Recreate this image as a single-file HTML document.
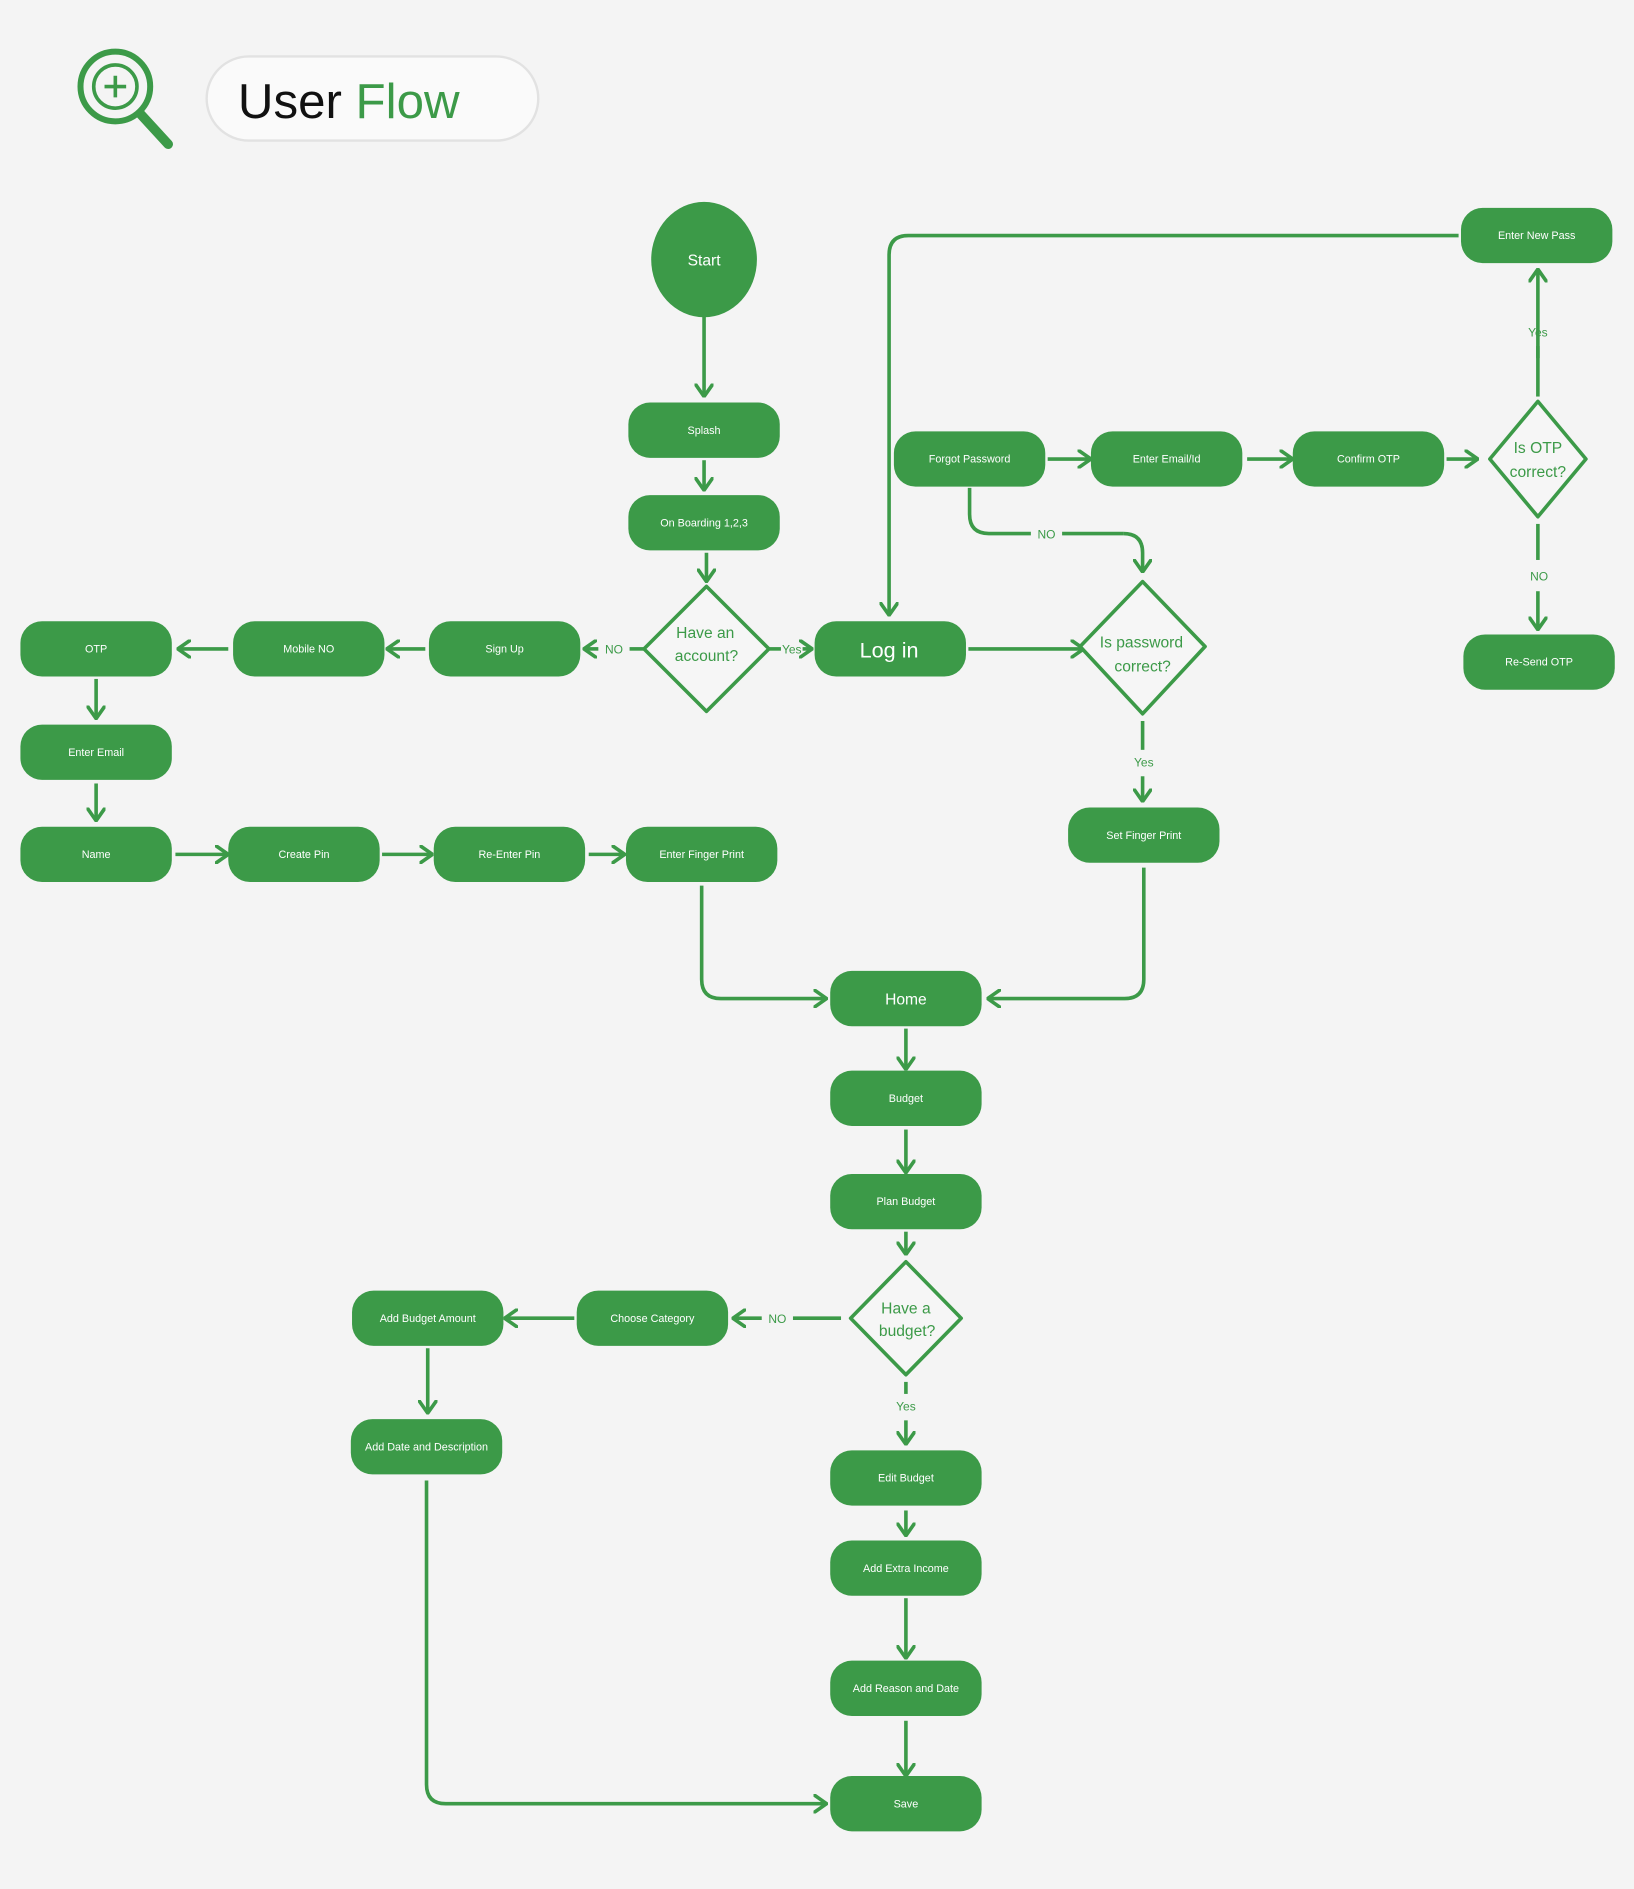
<!DOCTYPE html>
<html><head><meta charset="utf-8">
<style>
html,body{margin:0;padding:0;background:#f4f4f4;}
svg{display:block;}
text{font-family:"Liberation Sans",sans-serif;}
</style></head>
<body>
<svg width="1634" height="1889" viewBox="0 0 1360 1572" preserveAspectRatio="none" xmlns="http://www.w3.org/2000/svg">
<defs>
<marker id="a" viewBox="0 0 12 16" refX="11" refY="8" markerWidth="12" markerHeight="16" markerUnits="userSpaceOnUse" orient="auto">
<path d="M1,1 L11,8 L1,15" fill="none" stroke="#3c9a48" stroke-width="3" stroke-linecap="round" stroke-linejoin="round"/>
</marker>
</defs>
<rect width="1360" height="1572" fill="#f4f4f4"/>

<circle cx="96" cy="72" r="29" fill="none" stroke="#3c9a48" stroke-width="5"/>
<circle cx="96" cy="72" r="18" fill="none" stroke="#3c9a48" stroke-width="3"/>
<path d="M96,63 V81 M87,72 H105" stroke="#3c9a48" stroke-width="3"/>
<path d="M117,95 L140,120" stroke="#3c9a48" stroke-width="8" stroke-linecap="round"/>
<rect x="172" y="47" width="276" height="70" rx="35" fill="#fafafa" stroke="#e2e2e2" stroke-width="2"/>
<text x="198" y="98" font-size="41" fill="#111">User <tspan fill="#3c9a48">Flow</tspan></text>

<g fill="none" stroke="#3c9a48" stroke-width="3" marker-end="url(#a)">
<path d="M586,262 V330"/>
<path d="M586,383 V408"/>
<path d="M588,460 V484"/>
<path d="M498,540 H486"/>
<path d="M668,540 H676"/>
<path d="M354,540 H322"/>
<path d="M190,540 H148"/>
<path d="M80,565 V598"/>
<path d="M80,652 V683"/>
<path d="M146,711 H190"/>
<path d="M318,711 H360"/>
<path d="M490,711 H520"/>
<path d="M584,737 V815 Q584,831 600,831 H688"/>
<path d="M806,540 H902"/>
<path d="M1214,196 H756 Q740,196 740,212 V512"/>
<path d="M872,382 H908"/>
<path d="M1038,382 H1076"/>
<path d="M1204,382 H1230"/>
<path d="M1280,298 V224"/>
<path d="M1280,492 V524"/>
<path d="M935,444 Q951,444 951,460 V476"/>
<path d="M951,646 V667"/>
<path d="M952,722 V815 Q952,831 936,831 H822"/>
<path d="M754,856 V890"/>
<path d="M754,940 V976"/>
<path d="M754,1025 V1044"/>
<path d="M634,1097 H610" />
<path d="M478,1097 H420"/>
<path d="M356,1122 V1176"/>
<path d="M355,1232 V1485 Q355,1501 371,1501 H688"/>
<path d="M754,1182 V1202"/>
<path d="M754,1257 V1278"/>
<path d="M754,1330 V1380"/>
<path d="M754,1432 V1478"/>
</g>
<g fill="none" stroke="#3c9a48" stroke-width="3">
<path d="M536,540 H524"/>
<path d="M640,540 H650"/>
<path d="M1280,330 V288"/>
<path d="M1280,436 V466"/>
<path d="M807,406 V428 Q807,444 823,444 H858"/>
<path d="M884,444 H935"/>
<path d="M951,600 V624"/>
<path d="M700,1097 H660"/>
<path d="M754,1150 V1160"/>
</g>
<g font-size="10" fill="#3c9a48" text-anchor="middle">
<text x="511" y="544">NO</text>
<text x="659" y="544">Yes</text>
<text x="1280" y="280">Yes</text>
<text x="1281" y="483">NO</text>
<text x="871" y="448">NO</text>
<text x="952" y="638">Yes</text>
<text x="647" y="1101">NO</text>
<text x="754" y="1174">Yes</text>
</g>

<ellipse cx="586" cy="216" rx="44" ry="48" fill="#3c9a48"/>
<text x="586" y="221" font-size="13" fill="#fff" text-anchor="middle">Start</text>

<g fill="#3c9a48">
<rect x="523" y="335" width="126" height="46" rx="18"/>
<rect x="523" y="412" width="126" height="46" rx="18"/>
<rect x="357" y="517" width="126" height="46" rx="18"/>
<rect x="194" y="517" width="126" height="46" rx="18"/>
<rect x="17" y="517" width="126" height="46" rx="18"/>
<rect x="17" y="603" width="126" height="46" rx="18"/>
<rect x="17" y="688" width="126" height="46" rx="18"/>
<rect x="190" y="688" width="126" height="46" rx="18"/>
<rect x="361" y="688" width="126" height="46" rx="18"/>
<rect x="521" y="688" width="126" height="46" rx="18"/>
<rect x="678" y="517" width="126" height="46" rx="18"/>
<rect x="744" y="359" width="126" height="46" rx="18"/>
<rect x="908" y="359" width="126" height="46" rx="18"/>
<rect x="1076" y="359" width="126" height="46" rx="18"/>
<rect x="1216" y="173" width="126" height="46" rx="18"/>
<rect x="1218" y="528" width="126" height="46" rx="18"/>
<rect x="889" y="672" width="126" height="46" rx="18"/>
<rect x="691" y="808" width="126" height="46" rx="18"/>
<rect x="691" y="891" width="126" height="46" rx="18"/>
<rect x="691" y="977" width="126" height="46" rx="18"/>
<rect x="480" y="1074" width="126" height="46" rx="18"/>
<rect x="293" y="1074" width="126" height="46" rx="18"/>
<rect x="292" y="1181" width="126" height="46" rx="18"/>
<rect x="691" y="1207" width="126" height="46" rx="18"/>
<rect x="691" y="1282" width="126" height="46" rx="18"/>
<rect x="691" y="1382" width="126" height="46" rx="18"/>
<rect x="691" y="1478" width="126" height="46" rx="18"/>
</g>
<g font-size="9" fill="#fff" text-anchor="middle">
<text x="586" y="361">Splash</text>
<text x="586" y="438">On Boarding 1,2,3</text>
<text x="420" y="543">Sign Up</text>
<text x="257" y="543">Mobile NO</text>
<text x="80" y="543">OTP</text>
<text x="80" y="629">Enter Email</text>
<text x="80" y="714">Name</text>
<text x="253" y="714">Create Pin</text>
<text x="424" y="714">Re-Enter Pin</text>
<text x="584" y="714">Enter Finger Print</text>
<text x="807" y="385">Forgot Password</text>
<text x="971" y="385">Enter Email/Id</text>
<text x="1139" y="385">Confirm OTP</text>
<text x="1279" y="199">Enter New Pass</text>
<text x="1281" y="554">Re-Send OTP</text>
<text x="952" y="698">Set Finger Print</text>
<text x="754" y="917">Budget</text>
<text x="754" y="1003">Plan Budget</text>
<text x="543" y="1100">Choose Category</text>
<text x="356" y="1100">Add Budget Amount</text>
<text x="355" y="1207">Add Date and Description</text>
<text x="754" y="1233">Edit Budget</text>
<text x="754" y="1308">Add Extra Income</text>
<text x="754" y="1408">Add Reason and Date</text>
<text x="754" y="1504">Save</text>
</g>
<text x="740" y="547" font-size="18" fill="#fff" text-anchor="middle">Log in</text>
<text x="754" y="836" font-size="13" fill="#fff" text-anchor="middle">Home</text>

<g fill="#f6f6f6" stroke="#3c9a48" stroke-width="3" stroke-linejoin="round">
<path d="M588,488 L640,540 L588,592 L536,540 Z"/>
<path d="M951,484 L1003,538 L951,594 L899,538 Z"/>
<path d="M1280,334 L1320,382 L1280,430 L1240,382 Z"/>
<path d="M754,1050 L800,1097 L754,1144 L708,1097 Z"/>
</g>
<g font-size="13" fill="#3c9a48" text-anchor="middle">
<text x="587" y="531">Have an</text><text x="588" y="550">account?</text>
<text x="950" y="539">Is password</text><text x="951" y="559">correct?</text>
<text x="1280" y="377">Is OTP</text><text x="1280" y="397">correct?</text>
<text x="754" y="1093">Have a</text><text x="755" y="1112">budget?</text>
</g>
</svg>
</body></html>
